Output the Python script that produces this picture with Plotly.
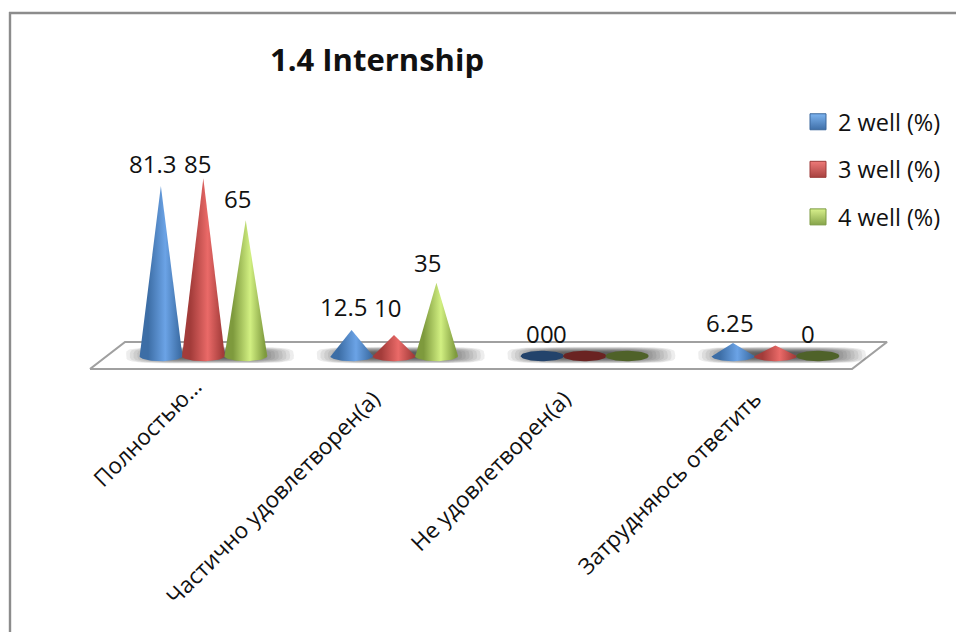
import numpy as np
import plotly.graph_objects as go

categories = ["Полностью…", "Частично удовлетворен(а)", "Не удовлетворен(а)", "Затрудняюсь ответить"]
series_names = ["2 well (%)", "3 well (%)", "4 well (%)"]
well_2 = [81.3, 12.5, 0, 6.2]
well_3 = [85, 10, 0, 5]
well_4 = [65, 35, 0, 0]
series_values = [well_2, well_3, well_4]

# styles
FONT = "Open Sans"
edge = ["#3d6ea6", "#a33c3a", "#7e9a3d"]
light = ["#6ba3e6", "#ea6a68", "#d2f082"]
flat = ["#23436b", "#6a2322", "#4f6229"]
legend_fill = ["#3f6fa8", "#a84240", "#86a44a"]
legend_top = ["#7db4f0", "#ee7a78", "#d8f08c"]
legend_line = ["#3a679c", "#9c3b39", "#7c9a42"]

W, H = 956, 632
PX_X = 190.7          # px per category
PX_Y = 2.09           # px per value unit
ZERO_X, ZERO_Y = 394 - PX_X, 356
AXIS_BOTTOM = 372
OFFSET = 0.2225       # category units between cones
RX, RY = 0.113, 5.2 / PX_Y
FLOOR_LO, FLOOR_HI = (356 - 369) / PX_Y, (356 - 342) / PX_Y
SKEW = 35 / PX_X      # horizontal lean of floor ends
FLOOR_L, FLOOR_R = (90 - ZERO_X) / PX_X, (852 - ZERO_X) / PX_X

fig = go.Figure()

# floor
fig.add_trace(go.Scatter(
    x=[FLOOR_L, FLOOR_L + SKEW, FLOOR_R + SKEW, FLOOR_R, FLOOR_L],
    y=[FLOOR_LO, FLOOR_HI, FLOOR_HI, FLOOR_LO, FLOOR_LO],
    mode="lines", line=dict(color="#a0a0a0", width=2.2),
    fill="toself", fillcolor="white", showlegend=False, hoverinfo="skip"))

# soft shadows
t = np.linspace(0, 2 * np.pi, 60)
for i in range(len(categories)):
    for k in range(16):
        f = 1 - k * 0.045
        rx, ry = 0.44 * f, 4.0 * f
        ex = np.sign(np.cos(t)) * np.abs(np.cos(t)) ** 0.45 * rx + i + 0.035
        ey = np.sign(np.sin(t)) * np.abs(np.sin(t)) ** 0.45 * ry + 0.4
        fig.add_trace(go.Scatter(x=ex, y=ey, mode="lines", line=dict(width=0),
                                 fill="toself", fillcolor="rgba(50,50,50,0.085)",
                                 showlegend=False, hoverinfo="skip"))

# cones, built from the values
th = np.linspace(np.pi, 2 * np.pi, 40)
for s, vals in enumerate(series_values):
    for i, v in enumerate(vals):
        cx = i + (s - 1) * OFFSET
        if v == 0:
            a = np.linspace(0, 2 * np.pi, 60)
            fig.add_trace(go.Scatter(x=cx + RX * np.cos(a), y=RY * np.sin(a), mode="lines",
                                     line=dict(width=0), fill="toself", fillcolor=flat[s],
                                     showlegend=False, hoverinfo="skip"))
        else:
            xs = np.concatenate([[cx], cx + RX * np.cos(th), [cx]])
            ys = np.concatenate([[v], RY * np.sin(th), [v]])
            fig.add_trace(go.Scatter(
                x=xs, y=ys, mode="lines", line=dict(width=0), fill="toself",
                fillgradient=dict(type="horizontal", colorscale=[
                    [0, edge[s]], [0.2, edge[s]], [0.6, light[s]], [0.95, edge[s]], [1, edge[s]]]),
                showlegend=False, hoverinfo="skip"))

# legend entries
for s, name in enumerate(series_names):
    fig.add_trace(go.Scatter(
        x=[None], y=[None], mode="markers", name=name, legendgroup=name,
        marker=dict(symbol="square", size=16, color=legend_top[s],
                    gradient=dict(type="vertical", color=legend_fill[s]),
                    line=dict(color=legend_line[s], width=1))))

# data labels (nudges copy the hand-placed labels of the original)
nudge_x = [[-8, -6, -8], [-8, -7, -9], [-9, -38, -67], [-10, -28, -10]]
nudge_y = [[23, 15, 22], [23, 28, 20], [23, 23, 23], [21, 23, 23]]
for s, vals in enumerate(series_values):
    for i, v in enumerate(vals):
        fig.add_annotation(x=i + (s - 1) * OFFSET, y=v, text=str(v), showarrow=False,
                           xanchor="center", yanchor="middle",
                           xshift=nudge_x[i][s], yshift=nudge_y[i][s],
                           font=dict(family=FONT, size=24, color="#111111"))

# the first label sits further along its diagonal than the others in the original
tick_text = [categories[0]] + [c + "\u00a0" * 3 for c in categories[1:]]

fig.update_layout(
    width=W, height=H, margin=dict(l=0, r=0, t=0, b=0),
    paper_bgcolor="white", plot_bgcolor="rgba(0,0,0,0)",
    font=dict(family=FONT, color="#111111"),
    title=dict(text="<b>1.4 Internship</b>", x=377 / W, xanchor="center",
               y=1 - 60 / H, yanchor="middle", font=dict(family=FONT, size=31, color="#111111")),
    xaxis=dict(range=[-ZERO_X / PX_X, (W - ZERO_X) / PX_X], domain=[0, 1],
               tickmode="array", tickvals=list(range(len(categories))), ticktext=tick_text,
               tickangle=-45, showgrid=False, zeroline=False, showline=False, ticks="",
               ticklen=0, ticklabelshift=-8, ticklabelstandoff=-4,
               tickfont=dict(family=FONT, size=22.5, color="#111111"), automargin=False),
    yaxis=dict(range=[(356 - AXIS_BOTTOM) / PX_Y, 356 / PX_Y], domain=[(H - AXIS_BOTTOM) / H, 1],
               visible=False),
    legend=dict(x=798 / W, y=1 - 100 / H, xanchor="left", yanchor="top",
                font=dict(family=FONT, size=23.5, color="#111111"),
                tracegroupgap=14, bgcolor="rgba(0,0,0,0)", itemwidth=30),
    shapes=[
        dict(type="line", xref="paper", yref="paper", x0=10 / W, x1=10 / W, y0=0, y1=1 - 12 / H,
             line=dict(color="#8c8c8c", width=2.4)),
        dict(type="line", xref="paper", yref="paper", x0=9 / W, x1=1, y0=1 - 13 / H, y1=1 - 13 / H,
             line=dict(color="#8c8c8c", width=2.4)),
    ],
)
fig.write_html("out.html", config=dict(displayModeBar=False),
               post_script="document.body.style.margin='0';document.body.style.overflow='hidden';")
